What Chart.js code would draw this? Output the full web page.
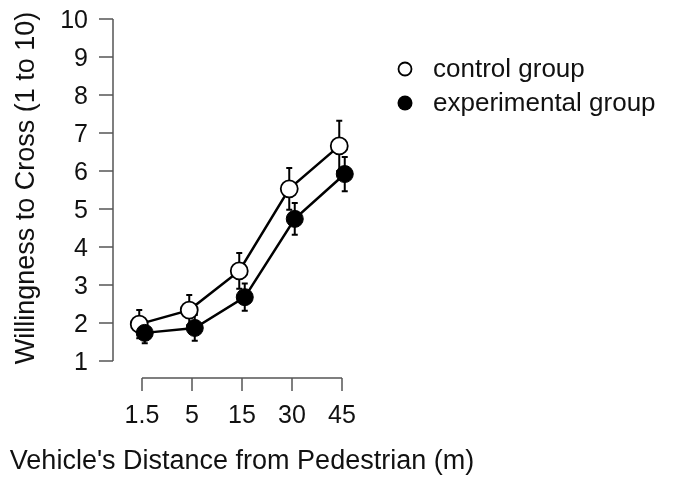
<!DOCTYPE html>
<html>
<head>
<meta charset="utf-8">
<script src="https://cdn.jsdelivr.net/npm/chart.js@4.4.1/dist/chart.umd.min.js"></script>
<style>
html,body{margin:0;padding:0;background:#fff;}
#wrap{width:675px;height:477px;}
</style>
</head>
<body>
<div id="wrap"><canvas id="c" width="675" height="477"></canvas></div>
<script>
const categories = ["1.5", "5", "15", "30", "45"];
const controlMeans = [1.97, 2.34, 3.37, 5.53, 6.66];
const controlErr = [0.37, 0.40, 0.47, 0.55, 0.66];
const experimentalMeans = [1.74, 1.87, 2.68, 4.74, 5.92];
const experimentalErr = [0.27, 0.34, 0.36, 0.42, 0.45];
const yTicks = [1, 2, 3, 4, 5, 6, 7, 8, 9, 10];
const seriesNames = ["control group", "experimental group"];
const xTitle = "Vehicle's Distance from Pedestrian (m)";
const yTitle = "Willingness to Cross (1 to 10)";

const FONT = "'Liberation Sans', Arial, Helvetica, sans-serif";
const AXIS = "#555";
const dodge = 0.055;

function pts(means, off) {
  return means.map((v, i) => ({ x: i + off, y: v }));
}

const errPlugin = {
  id: 'errbars',
  beforeDatasetsDraw(chart) {
    const ctx = chart.ctx, xs = chart.scales.x, ys = chart.scales.y;
    const sets = [[controlMeans, controlErr, -dodge], [experimentalMeans, experimentalErr, dodge]];
    ctx.save();
    ctx.strokeStyle = '#000';
    ctx.lineWidth = 2;
    sets.forEach(([m, e, off]) => {
      m.forEach((v, i) => {
        const px = xs.getPixelForValue(i + off);
        const top = ys.getPixelForValue(v + e[i]);
        const bot = ys.getPixelForValue(v - e[i]);
        ctx.beginPath();
        ctx.moveTo(px, top); ctx.lineTo(px, bot);
        ctx.moveTo(px - 3, top); ctx.lineTo(px + 3, top);
        ctx.moveTo(px - 3, bot); ctx.lineTo(px + 3, bot);
        ctx.stroke();
      });
    });
    ctx.restore();
  },
  afterDraw(chart) {
    const ctx = chart.ctx, xs = chart.scales.x, ys = chart.scales.y;
    ctx.save();
    ctx.strokeStyle = AXIS;
    ctx.lineWidth = 1.5;
    ctx.fillStyle = '#111';
    // Y axis
    const yx = chart.chartArea.left;
    ctx.beginPath();
    ctx.moveTo(yx, ys.getPixelForValue(yTicks[0]));
    ctx.lineTo(yx, ys.getPixelForValue(yTicks[yTicks.length - 1]));
    yTicks.forEach(t => {
      const py = ys.getPixelForValue(t);
      ctx.moveTo(yx - 14, py); ctx.lineTo(yx, py);
    });
    ctx.stroke();
    ctx.font = "25px " + FONT;
    ctx.textAlign = 'right';
    ctx.textBaseline = 'alphabetic';
    yTicks.forEach(t => {
      const py = ys.getPixelForValue(t);
      ctx.fillText(String(t), yx - 25, py + 9);
    });
    // X axis
    const axY = ys.getPixelForValue(yTicks[0]) + 17;
    ctx.beginPath();
    ctx.moveTo(xs.getPixelForValue(0), axY);
    ctx.lineTo(xs.getPixelForValue(categories.length - 1), axY);
    categories.forEach((c, i) => {
      const px = xs.getPixelForValue(i);
      ctx.moveTo(px, axY); ctx.lineTo(px, axY + 13);
    });
    ctx.stroke();
    ctx.font = "25px " + FONT;
    ctx.textAlign = 'center';
    categories.forEach((c, i) => {
      ctx.fillText(c, xs.getPixelForValue(i), axY + 45);
    });
    // Titles
    ctx.font = "27px " + FONT;
    ctx.fillText(xTitle, 242, 469);
    ctx.save();
    ctx.translate(27, (ys.getPixelForValue(1) + ys.getPixelForValue(10)) / 2 - 2);
    ctx.rotate(-Math.PI / 2);
    ctx.textBaseline = 'middle';
    ctx.fillText(yTitle, 0, 0);
    ctx.restore();
    // Legend
    ctx.font = "26px " + FONT;
    ctx.textAlign = 'left';
    ctx.textBaseline = 'middle';
    const lx = 405, ly = [69, 103];
    ctx.lineWidth = 1.8;
    ctx.strokeStyle = '#000';
    ctx.beginPath(); ctx.arc(lx, ly[0], 6.5, 0, Math.PI * 2);
    ctx.fillStyle = '#fff'; ctx.fill(); ctx.stroke();
    ctx.beginPath(); ctx.arc(lx, ly[1], 7.5, 0, Math.PI * 2);
    ctx.fillStyle = '#000'; ctx.fill();
    ctx.fillStyle = '#111';
    ctx.fillText(seriesNames[0], lx + 28, ly[0] + 1);
    ctx.fillText(seriesNames[1], lx + 28, ly[1] + 1);
    ctx.restore();
  }
};

new Chart(document.getElementById('c'), {
  type: 'line',
  data: {
    datasets: [
      {
        label: seriesNames[0],
        data: pts(controlMeans, -dodge),
        borderColor: '#000',
        borderWidth: 2.5,
        pointRadius: 8.5,
        pointBackgroundColor: '#fff',
        pointBorderColor: '#000',
        pointBorderWidth: 1.8,
        order: 2
      },
      {
        label: seriesNames[1],
        data: pts(experimentalMeans, dodge),
        borderColor: '#000',
        borderWidth: 2.5,
        pointRadius: 8.5,
        pointBackgroundColor: '#000',
        pointBorderColor: '#000',
        pointBorderWidth: 1,
        order: 1
      }
    ]
  },
  options: {
    responsive: false,
    animation: false,
    layout: { padding: { left: 113, right: 308, top: 19, bottom: 116 } },
    plugins: { legend: { display: false }, tooltip: { enabled: false } },
    scales: {
      x: { type: 'linear', min: -0.58, max: 4.5, display: false },
      y: { type: 'linear', min: 1, max: 10, display: false }
    }
  },
  plugins: [errPlugin]
});
</script>
</body>
</html>
